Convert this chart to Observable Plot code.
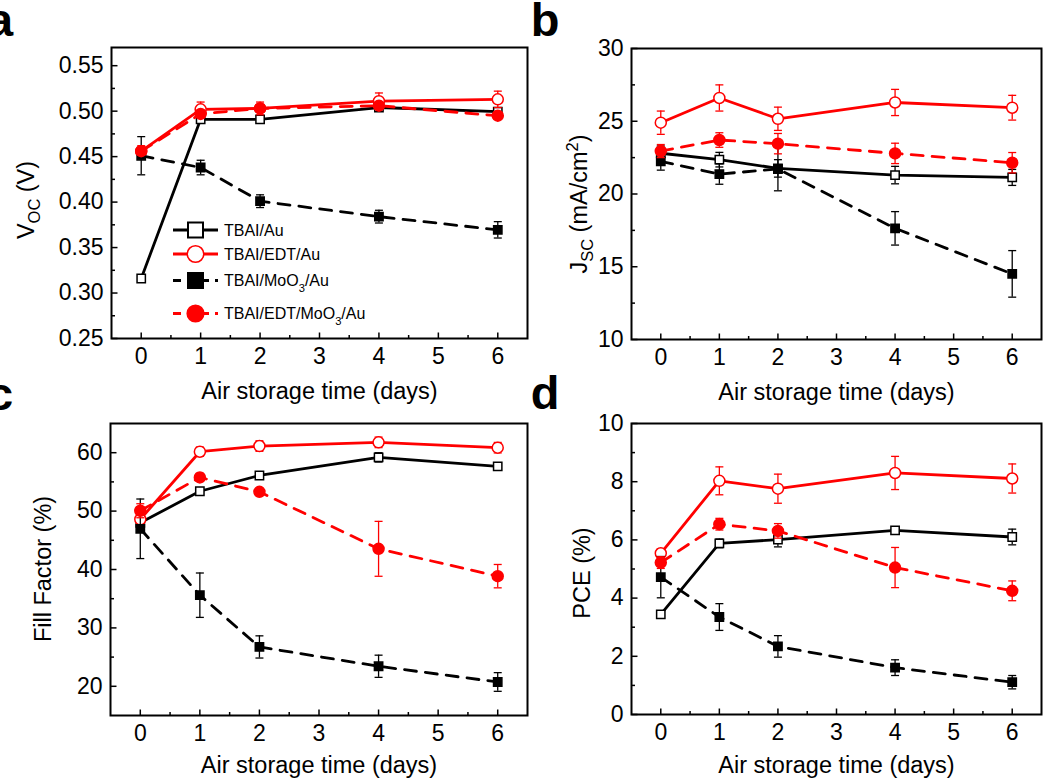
<!DOCTYPE html>
<html><head><meta charset="utf-8">
<script src="https://cdn.jsdelivr.net/npm/d3@7"></script>
<script src="https://cdn.jsdelivr.net/npm/@observablehq/plot@0.6"></script>
<style>
html,body{margin:0;padding:0;background:#fff;}
#fig{position:relative;width:1050px;height:778px;overflow:hidden;background:#fff;font-family:"Liberation Sans",Arial,sans-serif;}
#fig svg{position:absolute;overflow:visible;}
</style></head><body><div id="fig"></div>
<script>
// ---------- data ----------
const days = [0, 1, 2, 4, 6];
const seriesNames = ["TBAI/Au", "TBAI/EDT/Au", "TBAI/MoO3/Au", "TBAI/EDT/MoO3/Au"];
const xTicks = [0, 1, 2, 3, 4, 5, 6];
const xMinorTicks = [0.5, 1.5, 2.5, 3.5, 4.5, 5.5];
const xTitle = "Air storage time (days)";

// Voc (V)
const voc_TBAI_Au = [0.316, 0.491, 0.491, 0.504, 0.4995];
const voc_TBAI_Au_err = [0.003, 0.003, 0.003, 0.003, 0.003];
const voc_EDT_Au = [0.456, 0.502, 0.503, 0.511, 0.513];
const voc_EDT_Au_err = [0.006, 0.008, 0.007, 0.009, 0.009];
const voc_MoO3_Au = [0.451, 0.438, 0.401, 0.384, 0.3695];
const voc_MoO3_Au_err = [0.021, 0.008, 0.007, 0.007, 0.009];
const voc_EDT_MoO3_Au = [0.456, 0.497, 0.503, 0.506, 0.495];
const voc_EDT_MoO3_Au_err = [0.004, 0.004, 0.004, 0.004, 0.004];
const vocTicks = [0.25, 0.30, 0.35, 0.40, 0.45, 0.50, 0.55];
const vocMinorTicks = [0.275, 0.325, 0.375, 0.425, 0.475, 0.525];

// Jsc (mA/cm2)
const jsc_TBAI_Au = [22.8, 22.36, 21.76, 21.3, 21.14];
const jsc_TBAI_Au_err = [0.5, 0.5, 0.6, 0.6, 0.55];
const jsc_EDT_Au = [24.9, 26.6, 25.17, 26.29, 25.93];
const jsc_EDT_Au_err = [0.8, 0.9, 0.8, 0.9, 0.85];
const jsc_MoO3_Au = [22.24, 21.37, 21.72, 17.64, 14.51];
const jsc_MoO3_Au_err = [0.6, 0.7, 1.5, 1.15, 1.6];
const jsc_EDT_MoO3_Au = [22.95, 23.71, 23.46, 22.79, 22.15];
const jsc_EDT_MoO3_Au_err = [0.45, 0.5, 0.7, 0.7, 0.7];
const jscTicks = [10, 15, 20, 25, 30];
const jscMinorTicks = [12.5, 17.5, 22.5, 27.5];

// Fill factor (%)
const ff_TBAI_Au = [48.0, 53.4, 56.1, 59.2, 57.66];
const ff_TBAI_Au_err = [0.5, 0.5, 0.5, 0.8, 0.5];
const ff_EDT_Au = [48.6, 60.17, 61.14, 61.77, 60.86];
const ff_EDT_Au_err = [1.0, 0.8, 0.9, 0.9, 0.9];
const ff_MoO3_Au = [46.97, 35.6, 26.74, 23.43, 20.74];
const ff_MoO3_Au_err = [5.1, 3.8, 1.9, 1.9, 1.6];
const ff_EDT_MoO3_Au = [50.06, 55.77, 53.3, 43.54, 38.86];
const ff_EDT_MoO3_Au_err = [1.2, 0.7, 0.5, 4.7, 2.0];
const ffTicks = [20, 30, 40, 50, 60];
const ffMinorTicks = [25, 35, 45, 55];

// PCE (%)
const pce_TBAI_Au = [3.44, 5.88, 6.01, 6.33, 6.1];
const pce_TBAI_Au_err = [0.08, 0.15, 0.25, 0.1, 0.27];
const pce_EDT_Au = [5.54, 8.03, 7.76, 8.30, 8.11];
const pce_EDT_Au_err = [0.15, 0.48, 0.5, 0.57, 0.5];
const pce_MoO3_Au = [4.72, 3.35, 2.34, 1.61, 1.11];
const pce_MoO3_Au_err = [0.71, 0.46, 0.37, 0.27, 0.23];
const pce_EDT_MoO3_Au = [5.22, 6.54, 6.31, 5.05, 4.25];
const pce_EDT_MoO3_Au_err = [0.2, 0.2, 0.25, 0.69, 0.34];
const pceTicks = [0, 2, 4, 6, 8, 10];
const pceMinorTicks = [1, 3, 5, 7, 9];

// ---------- styles ----------
const seriesColor = ["#000000", "#ff0000", "#000000", "#ff0000"];
const seriesDashed = [false, false, true, true];
const seriesFilled = [false, false, true, true];
const seriesSymbol = ["square", "circle", "square", "circle"];
const FONT = "'Liberation Sans', Arial, sans-serif";

const tickUp = len => ({draw(ctx) { ctx.moveTo(0, 0); ctx.lineTo(0, -len); }});
const tickRight = len => ({draw(ctx) { ctx.moveTo(0, 0); ctx.lineTo(len, 0); }});
const capSym = {draw(ctx) { ctx.moveTo(-4, 0); ctx.lineTo(4, 0); }};

const fig = document.getElementById("fig");

function addLabel(sel, parts, size) {
  let shift = 0;
  parts.forEach(([t, kind]) => {
    const ts = sel.append("tspan").text(t);
    let target = 0;
    if (kind === "sub") { ts.attr("font-size", size * 0.7); target = 6; }
    else if (kind === "sup") { ts.attr("font-size", size * 0.7); target = -9; }
    if (target !== shift) { ts.attr("dy", target - shift); shift = target; }
  });
}

function panel(p) {
  const marks = [Plot.frame({stroke: "black", strokeWidth: 2})];
  p.values.forEach((vals, k) => {
    const rows = days.map((d, i) => ({x: d, y: vals[i], e: p.errors[k][i]}));
    const c = seriesColor[k];
    const lineOpts = {x: "x", y: "y", stroke: c, strokeWidth: 2.8};
    if (seriesDashed[k]) lineOpts.strokeDasharray = "12,9";
    marks.push(Plot.line(rows, lineOpts));
    marks.push(Plot.ruleX(rows, {x: "x", y1: d => d.y - d.e, y2: d => d.y + d.e, stroke: c, strokeWidth: 1.3}));
    marks.push(Plot.dot(rows, {x: "x", y: d => d.y + d.e, symbol: capSym, stroke: c, fill: "none", strokeWidth: 1.3}));
    marks.push(Plot.dot(rows, {x: "x", y: d => d.y - d.e, symbol: capSym, stroke: c, fill: "none", strokeWidth: 1.3}));
    marks.push(Plot.dot(rows, {
      x: "x", y: "y", symbol: seriesSymbol[k],
      r: seriesSymbol[k] === "square" ? 4.7 : 5.5,
      fill: seriesFilled[k] ? c : "white", stroke: c, strokeWidth: 1.5
    }));
  });
  // inward ticks
  marks.push(Plot.dot(xTicks, {x: d => d, frameAnchor: "bottom", symbol: tickUp(6), stroke: "black", fill: "none", strokeWidth: 1.5}));
  marks.push(Plot.dot(xMinorTicks, {x: d => d, frameAnchor: "bottom", symbol: tickUp(3.5), stroke: "black", fill: "none", strokeWidth: 1.5}));
  marks.push(Plot.dot(p.ticks, {y: d => d, frameAnchor: "left", symbol: tickRight(6), stroke: "black", fill: "none", strokeWidth: 1.5}));
  marks.push(Plot.dot(p.minor, {y: d => d, frameAnchor: "left", symbol: tickRight(3.5), stroke: "black", fill: "none", strokeWidth: 1.5}));
  // axes labels
  marks.push(Plot.axisX(xTicks, {tickSize: 0, tickPadding: 9, fontSize: 23, label: null}));
  marks.push(Plot.axisY(p.ticks, {tickSize: 0, tickPadding: 8, fontSize: 23, label: null, tickFormat: p.fmt}));
  marks.push(Plot.text([xTitle], {text: d => d, frameAnchor: "bottom", dy: p.titleDy, lineAnchor: "top", fontSize: 23.5}));

  const svg = Plot.plot({
    width: 530, height: 400,
    marginLeft: p.m[0], marginRight: p.m[1], marginTop: p.m[2], marginBottom: p.m[3],
    x: {domain: [-0.5, 6.5]},
    y: {domain: p.domain},
    style: {background: "transparent", overflow: "visible", fontFamily: FONT, color: "black"},
    marks
  });
  svg.style.left = p.pos[0] + "px";
  svg.style.top = p.pos[1] + "px";
  const s = d3.select(svg);
  const yl = s.append("text")
    .attr("transform", `translate(${p.ylab[0]},${p.ylab[1]}) rotate(-90)`)
    .attr("text-anchor", "middle").attr("font-size", 23.5).attr("font-family", FONT).attr("fill", "black");
  addLabel(yl, p.ylabel, 23.5);
  s.append("text").attr("x", p.letter[0]).attr("y", p.letter[1]).text(p.letterText)
    .attr("font-size", 47).attr("font-weight", "bold").attr("font-family", FONT).attr("fill", "black");
  fig.appendChild(svg);
  return svg;
}

panel({
  pos: [0, 0], m: [111, 3, 47, 62], domain: [0.25, 0.57],
  ticks: vocTicks, minor: vocMinorTicks, fmt: d3.format(".2f"), titleDy: 44,
  values: [voc_TBAI_Au, voc_EDT_Au, voc_MoO3_Au, voc_EDT_MoO3_Au],
  errors: [voc_TBAI_Au_err, voc_EDT_Au_err, voc_MoO3_Au_err, voc_EDT_MoO3_Au_err],
  ylabel: [["V", ""], ["OC", "sub"], [" (V)", ""]], ylab: [34, 200],
  letterText: "a", letter: [0, 36]
});
panel({
  pos: [520, 0], m: [111, 9, 48, 61], domain: [10, 30],
  ticks: jscTicks, minor: jscMinorTicks, fmt: d3.format("d"), titleDy: 44,
  values: [jsc_TBAI_Au, jsc_EDT_Au, jsc_MoO3_Au, jsc_EDT_MoO3_Au],
  errors: [jsc_TBAI_Au_err, jsc_EDT_Au_err, jsc_MoO3_Au_err, jsc_EDT_MoO3_Au_err],
  ylabel: [["J", ""], ["SC", "sub"], [" (mA/cm", ""], ["2", "sup"], [")", ""]], ylab: [67, 204],
  letterText: "b", letter: [25, 36]
});
panel({
  pos: [0, 378], m: [110, 3, 45, 63], domain: [15, 65],
  ticks: ffTicks, minor: ffMinorTicks, fmt: d3.format("d"), titleDy: 41,
  values: [ff_TBAI_Au, ff_EDT_Au, ff_MoO3_Au, ff_EDT_MoO3_Au],
  errors: [ff_TBAI_Au_err, ff_EDT_Au_err, ff_MoO3_Au_err, ff_EDT_MoO3_Au_err],
  ylabel: [["Fill Factor (%)", ""]], ylab: [51, 191],
  letterText: "c", letter: [0, 32]
});
panel({
  pos: [520, 378], m: [111, 9, 45, 64], domain: [0, 10],
  ticks: pceTicks, minor: pceMinorTicks, fmt: d3.format("d"), titleDy: 42,
  values: [pce_TBAI_Au, pce_EDT_Au, pce_MoO3_Au, pce_EDT_MoO3_Au],
  errors: [pce_TBAI_Au_err, pce_EDT_Au_err, pce_MoO3_Au_err, pce_EDT_MoO3_Au_err],
  ylabel: [["PCE (%)", ""]], ylab: [70, 195],
  letterText: "d", letter: [25, 31]
});

// ---------- legend (inside panel a) ----------
const legendY = [230, 254, 280.5, 313.5];
const lg = d3.select(fig).append("svg")
  .attr("width", 1050).attr("height", 778).style("left", "0px").style("top", "0px");
seriesNames.forEach((name, k) => {
  const y = legendY[k], c = seriesColor[k];
  const ln = lg.append("line").attr("x1", 173).attr("x2", 218).attr("y1", y).attr("y2", y)
    .attr("stroke", c).attr("stroke-width", 3);
  if (seriesDashed[k]) ln.attr("stroke-dasharray", "8,6");
  if (seriesSymbol[k] === "square") {
    lg.append("rect").attr("x", 195.5 - 7.5).attr("y", y - 7.5).attr("width", 15).attr("height", 15)
      .attr("fill", seriesFilled[k] ? c : "white").attr("stroke", c).attr("stroke-width", 2);
  } else {
    lg.append("circle").attr("cx", 195.5).attr("cy", y).attr("r", 8.3)
      .attr("fill", seriesFilled[k] ? c : "white").attr("stroke", c).attr("stroke-width", 1.6);
  }
  const t = lg.append("text").attr("x", 224).attr("y", y + 5.5).attr("font-size", 16)
    .attr("font-family", FONT).attr("fill", "black");
  const pieces = name.split("3");
  if (pieces.length > 1) addLabel(t, [[pieces[0], ""], ["3", "sub"], [pieces[1], ""]], 16);
  else t.text(name);
});
</script></body></html>
